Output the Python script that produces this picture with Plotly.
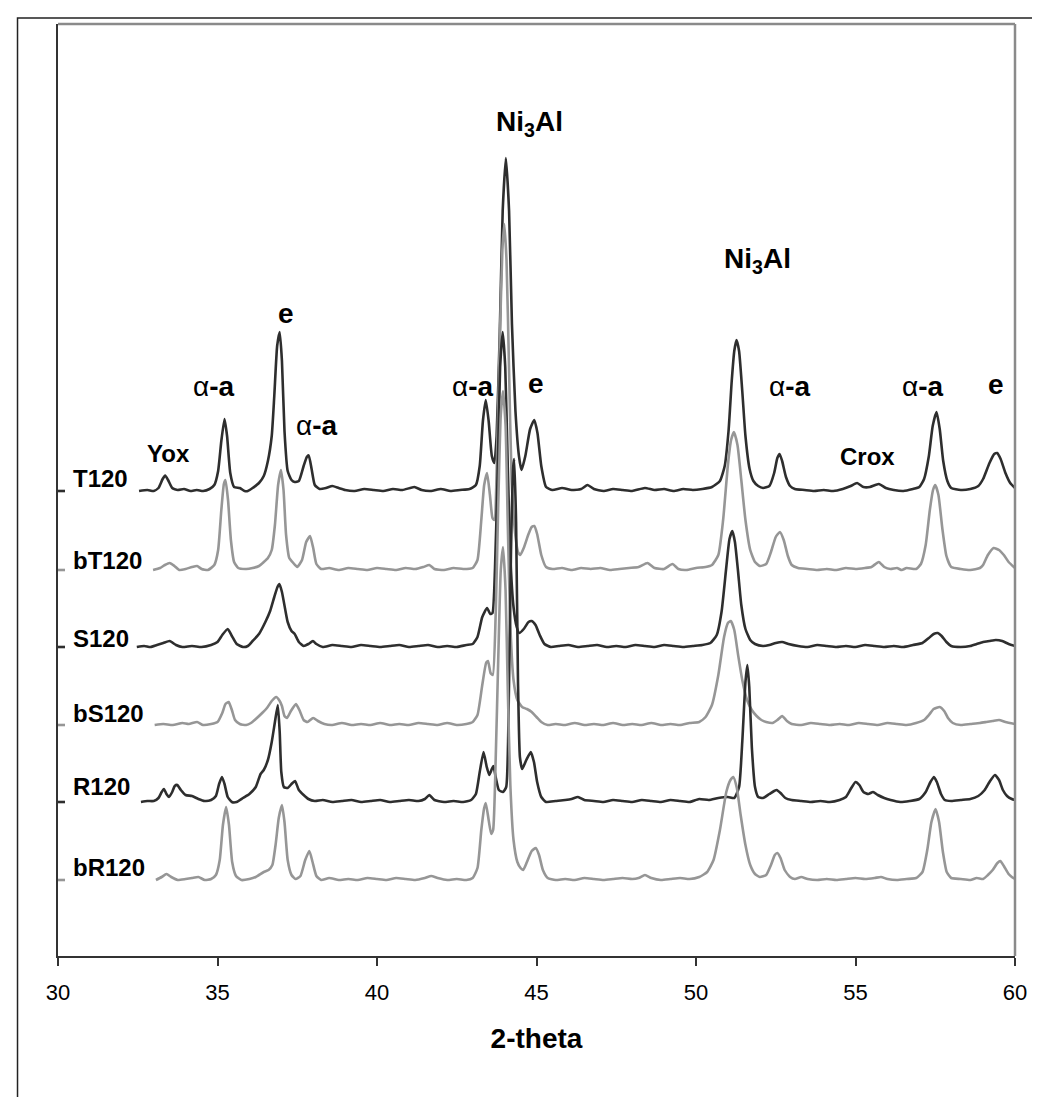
import plotly.graph_objects as go

# ---------------- data (intensity above each pattern's own baseline, arbitrary units) ----------------
series_names = ["T120", "bT120", "S120", "bS120", "R120", "bR120"]
series_offsets = [465, 386, 309, 231, 154, 76]
series_colors = ["#2e2e2e", "#969696", "#2e2e2e", "#969696", "#2e2e2e", "#969696"]

t120_pts = [(30.0, 0), (30.22, 0), (None, None),
    (32.54, 0), (32.8, 1), (33.0, 0), (33.15, 3), (33.28, 12), (33.36, 15.5), (33.45, 11), (33.58, 3), (33.75, 1),
    (33.95, 2), (34.15, 0), (34.35, 1), (34.55, 0), (34.75, 2), (34.9, 6), (35.02, 20), (35.12, 50), (35.22, 72),
    (35.3, 55), (35.4, 18), (35.52, 4), (35.7, 3), (35.85, 0), (35.95, 0), (36.1, 3), (36.3, 8), (36.45, 15),
    (36.58, 30), (36.7, 55), (36.78, 95), (36.87, 145), (36.95, 159), (37.02, 130), (37.1, 60), (37.2, 20),
    (37.32, 11), (37.42, 9), (37.55, 10), (37.7, 25), (37.8, 34), (37.86, 35.6), (37.95, 22), (38.05, 6),
    (38.2, 2), (38.4, 3), (38.6, 5), (38.8, 3), (39.0, 1), (39.3, 0), (39.6, 2), (39.9, 1), (40.2, 0), (40.5, 2),
    (40.8, 1), (41.17, 4), (41.4, 1), (41.7, 0), (42.0, 2), (42.3, 0), (42.6, 1), (42.9, 2), (43.1, 6),
    (43.22, 25), (43.32, 70), (43.41, 91), (43.5, 70), (43.6, 35), (43.68, 28), (43.75, 55), (43.85, 160),
    (43.94, 280), (44.04, 333), (44.14, 280), (44.23, 167), (44.34, 80), (44.45, 35), (44.53, 21), (44.65, 35),
    (44.8, 62), (44.93, 71), (45.03, 58), (45.15, 25), (45.3, 4), (45.5, 1), (45.8, 3), (46.1, 1), (46.4, 2),
    (46.6, 6), (46.8, 2), (47.1, 0), (47.4, 2), (47.7, 1), (48.0, 0), (48.4, 3), (48.7, 1), (49.0, 2), (49.3, 0),
    (49.6, 2), (49.9, 1), (50.2, 2), (50.5, 4), (50.75, 10), (50.9, 25), (51.02, 60), (51.12, 110), (51.2, 140),
    (51.27, 151), (51.35, 140), (51.45, 100), (51.55, 55), (51.68, 22), (51.8, 10), (51.95, 5), (52.1, 3),
    (52.3, 5), (52.45, 18), (52.55, 33), (52.62, 37), (52.7, 30), (52.82, 14), (52.95, 5), (53.1, 2), (53.4, 1),
    (53.7, 0), (54.0, 1), (54.3, 0), (54.6, 2), (54.85, 5), (55.05, 8), (55.25, 4), (55.45, 4), (55.73, 7),
    (55.95, 3), (56.2, 1), (56.5, 0), (56.8, 2), (57.0, 4), (57.15, 12), (57.3, 35), (57.42, 65), (57.54, 79),
    (57.64, 62), (57.75, 30), (57.88, 10), (58.0, 3), (58.3, 1), (58.6, 2), (58.85, 5), (59.0, 12), (59.2, 28),
    (59.35, 37), (59.44, 38), (59.55, 32), (59.7, 18), (59.85, 8), (60.0, 3)]

bt120_pts = [(30.0, 0), (30.22, 0), (None, None),
    (32.98, 0), (33.2, 2), (33.35, 5), (33.5, 7), (33.65, 4), (33.8, 0), (34.0, 1), (34.2, 3), (34.36, 4),
    (34.5, 1), (34.7, 0), (34.9, 5), (35.02, 20), (35.12, 60), (35.2, 86), (35.25, 90), (35.33, 70), (35.42, 30),
    (35.52, 8), (35.65, 2), (35.9, 1), (36.1, 2), (36.3, 4), (36.45, 8), (36.58, 12), (36.7, 20), (36.8, 45),
    (36.9, 85), (36.99, 100), (37.07, 80), (37.15, 35), (37.25, 12), (37.35, 8), (37.5, 3), (37.65, 10),
    (37.78, 28), (37.9, 34), (38.0, 22), (38.1, 6), (38.25, 1), (38.5, 2), (38.8, 0), (39.1, 2), (39.4, 1),
    (39.7, 0), (40.0, 2), (40.3, 1), (40.6, 0), (40.9, 2), (41.2, 1), (41.45, 3), (41.64, 5), (41.8, 1), (42.1, 0),
    (42.4, 2), (42.7, 1), (43.0, 2), (43.15, 10), (43.27, 50), (43.36, 85), (43.45, 97), (43.54, 75),
    (43.62, 52), (43.68, 50), (43.76, 110), (43.85, 230), (43.93, 320), (43.99, 346), (44.06, 310),
    (44.14, 200), (44.22, 90), (44.32, 40), (44.42, 18), (44.49, 15), (44.6, 22), (44.75, 36), (44.85, 43),
    (44.93, 44), (45.02, 36), (45.15, 15), (45.3, 3), (45.5, 1), (45.8, 2), (46.1, 0), (46.4, 2), (46.7, 1),
    (47.0, 2), (47.3, 0), (47.6, 1), (47.9, 2), (48.2, 3), (48.48, 7), (48.7, 2), (49.0, 1), (49.26, 6),
    (49.45, 1), (49.7, 0), (50.0, 2), (50.3, 3), (50.5, 5), (50.7, 15), (50.85, 50), (51.0, 105), (51.1, 130),
    (51.19, 138), (51.3, 125), (51.42, 90), (51.55, 50), (51.7, 20), (51.85, 8), (52.0, 4), (52.2, 6),
    (52.35, 18), (52.5, 33), (52.63, 38), (52.75, 30), (52.88, 14), (53.0, 5), (53.2, 2), (53.5, 1), (53.8, 0),
    (54.1, 1), (54.4, 0), (54.7, 2), (55.0, 1), (55.3, 2), (55.5, 3), (55.73, 8), (55.9, 3), (56.1, 1), (56.3, 2),
    (56.45, 0), (56.6, 2), (56.9, 1), (57.05, 6), (57.2, 25), (57.33, 60), (57.43, 80), (57.5, 85), (57.6, 75),
    (57.72, 42), (57.85, 14), (58.0, 3), (58.3, 1), (58.6, 0), (58.9, 2), (59.0, 5), (59.15, 15), (59.33, 22),
    (59.5, 20), (59.65, 15), (59.8, 8), (60.0, 2)]

s120_pts = [(30.0, 0), (30.22, 0), (None, None),
    (32.47, 0), (32.7, 1), (32.9, 0), (33.1, 2), (33.3, 4), (33.5, 6), (33.7, 2), (33.9, 0), (34.2, 1), (34.5, 0),
    (34.8, 2), (35.0, 5), (35.15, 12), (35.32, 18), (35.45, 11), (35.6, 3), (35.8, 0), (35.95, 1), (36.1, 6),
    (36.3, 13), (36.5, 25), (36.65, 36), (36.78, 50), (36.88, 60), (36.94, 63), (37.02, 55), (37.12, 38),
    (37.2, 25), (37.32, 16), (37.42, 13), (37.55, 5), (37.7, 1), (37.85, 3), (37.99, 6), (38.1, 3), (38.3, 0),
    (38.6, 2), (38.9, 1), (39.2, 0), (39.5, 2), (39.8, 1), (40.1, 0), (40.4, 1), (40.7, 2), (41.0, 0), (41.3, 1),
    (41.6, 2), (41.9, 0), (42.2, 1), (42.5, 0), (42.8, 2), (43.0, 3), (43.15, 10), (43.3, 30), (43.45, 39),
    (43.55, 33), (43.62, 34), (43.7, 80), (43.78, 170), (43.86, 280), (43.94, 315), (44.02, 280), (44.1, 180),
    (44.18, 90), (44.28, 40), (44.38, 20), (44.46, 14), (44.6, 18), (44.75, 25), (44.85, 26), (44.97, 22),
    (45.1, 12), (45.25, 3), (45.45, 0), (45.7, 1), (46.0, 2), (46.3, 0), (46.6, 1), (46.9, 2), (47.2, 0),
    (47.5, 1), (47.8, 0), (48.1, 2), (48.4, 1), (48.7, 0), (49.0, 2), (49.3, 1), (49.6, 0), (49.9, 1), (50.2, 2),
    (50.45, 4), (50.65, 12), (50.8, 35), (50.95, 80), (51.05, 108), (51.14, 116), (51.22, 105), (51.32, 75),
    (51.42, 42), (51.55, 18), (51.7, 7), (51.85, 3), (52.1, 1), (52.3, 2), (52.5, 4), (52.7, 5), (52.9, 3),
    (53.2, 1), (53.5, 0), (53.8, 2), (54.1, 1), (54.4, 0), (54.7, 1), (55.0, 0), (55.3, 2), (55.6, 1), (55.9, 0),
    (56.2, 1), (56.5, 0), (56.8, 2), (57.1, 4), (57.3, 9), (57.45, 13), (57.58, 14), (57.7, 11), (57.85, 5),
    (58.0, 1), (58.3, 0), (58.6, 1), (58.8, 3), (59.0, 5), (59.2, 6), (59.4, 7), (59.6, 6), (59.8, 3), (60.0, 1)]

bs120_pts = [(30.0, 0), (30.22, 0), (None, None),
    (33.03, 0), (33.3, 1), (33.6, 0), (33.9, 2), (34.1, 1), (34.36, 3), (34.55, 0), (34.8, 1), (35.0, 3),
    (35.15, 12), (35.25, 21), (35.35, 23), (35.45, 15), (35.55, 5), (35.7, 1), (35.9, 0), (36.05, 2), (36.2, 6),
    (36.4, 12), (36.55, 17), (36.7, 24), (36.84, 28), (36.95, 24), (37.02, 19), (37.1, 9), (37.18, 7),
    (37.3, 14), (37.46, 21), (37.58, 14), (37.7, 5), (37.82, 3), (38.0, 7), (38.15, 4), (38.35, 1), (38.6, 0),
    (38.9, 2), (39.2, 0), (39.5, 1), (39.8, 0), (40.1, 2), (40.4, 0), (40.7, 1), (41.0, 0), (41.3, 2), (41.6, 1),
    (41.9, 0), (42.2, 2), (42.5, 0), (42.8, 1), (43.0, 3), (43.15, 10), (43.3, 40), (43.42, 62), (43.48, 64),
    (43.56, 52), (43.63, 50), (43.72, 110), (43.8, 220), (43.88, 310), (43.95, 334), (44.03, 300), (44.1, 200),
    (44.18, 100), (44.28, 45), (44.4, 25), (44.55, 18), (44.7, 16), (44.85, 13), (45.0, 8), (45.15, 3),
    (45.35, 0), (45.6, 1), (45.9, 0), (46.2, 2), (46.5, 0), (46.8, 1), (47.1, 0), (47.4, 2), (47.7, 0), (48.0, 1),
    (48.3, 0), (48.6, 2), (48.9, 0), (49.2, 1), (49.5, 0), (49.8, 2), (50.1, 3), (50.3, 8), (50.5, 20),
    (50.7, 50), (50.88, 88), (51.0, 102), (51.09, 104), (51.2, 95), (51.32, 70), (51.45, 45), (51.6, 25),
    (51.75, 15), (51.9, 9), (52.05, 5), (52.2, 3), (52.4, 2), (52.55, 5), (52.7, 9), (52.85, 4), (53.0, 1),
    (53.3, 0), (53.6, 2), (53.9, 1), (54.2, 0), (54.5, 1), (54.8, 0), (55.1, 2), (55.4, 1), (55.7, 0), (56.0, 2),
    (56.3, 1), (56.6, 0), (56.9, 2), (57.15, 5), (57.3, 10), (57.45, 16), (57.64, 18), (57.78, 14), (57.9, 7),
    (58.05, 2), (58.3, 0), (58.6, 1), (58.9, 2), (59.1, 3), (59.3, 4), (59.5, 5), (59.7, 3), (60.0, 1)]

r120_pts = [(30.0, 0), (30.22, 0), (None, None),
    (32.6, 0), (32.8, 1), (33.0, 1), (33.15, 4), (33.25, 10), (33.32, 13), (33.4, 8), (33.48, 5), (33.58, 10),
    (33.66, 16), (33.74, 17), (33.85, 12), (34.0, 7), (34.2, 6), (34.4, 3), (34.6, 1), (34.8, 2), (34.95, 6),
    (35.05, 18), (35.14, 25), (35.22, 18), (35.32, 5), (35.45, 0), (35.6, 0), (35.8, 4), (36.0, 8), (36.2, 15),
    (36.35, 28), (36.45, 32), (36.58, 42), (36.7, 60), (36.8, 80), (36.89, 97), (36.95, 70), (37.0, 30),
    (37.08, 15), (37.2, 14), (37.32, 18), (37.43, 21), (37.55, 12), (37.7, 7), (37.85, 3), (38.05, 1),
    (38.3, 2), (38.6, 0), (38.9, 1), (39.2, 2), (39.5, 0), (39.8, 1), (40.1, 2), (40.4, 0), (40.7, 1), (41.0, 2),
    (41.3, 1), (41.5, 3), (41.64, 7), (41.8, 2), (42.1, 0), (42.4, 1), (42.7, 0), (42.95, 2), (43.1, 8),
    (43.22, 30), (43.34, 50), (43.44, 35), (43.52, 27), (43.6, 33), (43.65, 36), (43.72, 25), (43.82, 12),
    (43.95, 10), (44.05, 15), (44.13, 100), (44.2, 250), (44.27, 335), (44.3, 343), (44.36, 280),
    (44.42, 120), (44.48, 45), (44.55, 33), (44.68, 42), (44.82, 50), (44.92, 40), (45.02, 20), (45.15, 5),
    (45.3, 0), (45.6, 1), (45.9, 2), (46.1, 3), (46.3, 5), (46.5, 2), (46.8, 1), (47.1, 0), (47.4, 2), (47.7, 1),
    (48.0, 0), (48.3, 2), (48.6, 1), (48.9, 0), (49.2, 2), (49.5, 1), (49.8, 0), (50.1, 3), (50.4, 2), (50.7, 4),
    (51.0, 5), (51.2, 4), (51.35, 15), (51.45, 60), (51.55, 120), (51.61, 137), (51.67, 115), (51.75, 55),
    (51.85, 15), (51.95, 5), (52.1, 4), (52.3, 8), (52.45, 11), (52.53, 12), (52.65, 9), (52.8, 4), (53.0, 2),
    (53.3, 1), (53.6, 0), (53.9, 1), (54.2, 0), (54.5, 2), (54.7, 5), (54.85, 13), (55.0, 20), (55.12, 17),
    (55.25, 10), (55.4, 8), (55.55, 10), (55.7, 7), (55.9, 4), (56.1, 2), (56.4, 0), (56.7, 1), (57.0, 3),
    (57.2, 10), (57.35, 20), (57.46, 25), (57.55, 20), (57.68, 8), (57.8, 2), (58.0, 1), (58.3, 2), (58.6, 3),
    (58.85, 6), (59.05, 12), (59.2, 20), (59.37, 27), (59.5, 22), (59.62, 12), (59.75, 6), (59.9, 3), (60.0, 2)]

br120_pts = [(30.0, 0), (30.22, 0), (None, None),
    (33.07, 0), (33.25, 3), (33.4, 6), (33.55, 3), (33.75, 0), (34.0, 1), (34.2, 2), (34.4, 3), (34.6, 0),
    (34.8, 1), (34.95, 5), (35.07, 20), (35.17, 55), (35.27, 73), (35.36, 55), (35.46, 18), (35.58, 4),
    (35.75, 0), (36.0, 1), (36.2, 3), (36.45, 8), (36.6, 10), (36.72, 15), (36.82, 35), (36.92, 62), (37.02, 75),
    (37.1, 58), (37.2, 20), (37.32, 5), (37.45, 1), (37.6, 4), (37.75, 20), (37.88, 29), (37.98, 18), (38.1, 4),
    (38.25, 0), (38.5, 2), (38.8, 0), (39.1, 1), (39.4, 0), (39.7, 2), (40.0, 1), (40.3, 0), (40.6, 2), (40.9, 1),
    (41.2, 0), (41.5, 2), (41.7, 4), (41.9, 2), (42.2, 0), (42.5, 1), (42.8, 0), (43.0, 2), (43.15, 12),
    (43.27, 50), (43.36, 72), (43.41, 77), (43.5, 60), (43.58, 46), (43.64, 50), (43.72, 120), (43.8, 220),
    (43.88, 310), (43.95, 333), (44.03, 290), (44.1, 190), (44.18, 95), (44.28, 40), (44.4, 18), (44.5, 12),
    (44.58, 10), (44.7, 18), (44.85, 29), (44.98, 32), (45.08, 25), (45.2, 10), (45.35, 2), (45.6, 0),
    (45.9, 1), (46.2, 0), (46.5, 2), (46.8, 1), (47.1, 0), (47.4, 1), (47.7, 2), (48.0, 1), (48.2, 2), (48.4, 5),
    (48.6, 2), (48.9, 0), (49.2, 1), (49.5, 2), (49.8, 1), (50.1, 3), (50.35, 8), (50.55, 20), (50.75, 50),
    (50.95, 88), (51.08, 100), (51.17, 103), (51.28, 92), (51.4, 65), (51.55, 35), (51.7, 15), (51.85, 6),
    (52.0, 3), (52.2, 5), (52.35, 15), (52.47, 25), (52.55, 27), (52.65, 22), (52.78, 10), (52.95, 3),
    (53.1, 1), (53.3, 3), (53.5, 1), (53.8, 0), (54.1, 1), (54.4, 0), (54.7, 1), (55.0, 2), (55.3, 1), (55.6, 2),
    (55.8, 3), (56.0, 1), (56.3, 0), (56.6, 1), (56.9, 2), (57.1, 8), (57.25, 30), (57.38, 58), (57.51, 71),
    (57.62, 58), (57.74, 28), (57.86, 8), (58.0, 2), (58.3, 1), (58.6, 0), (58.8, 2), (59.0, 1), (59.15, 5),
    (59.3, 10), (59.45, 17), (59.54, 19), (59.65, 14), (59.8, 6), (59.9, 3), (60.0, 1)]

series_points = [t120_pts, bt120_pts, s120_pts, bs120_pts, r120_pts, br120_pts]

# series name labels (x, y in data units)
series_label_x = 30.41
series_label_y = [478, 396, 318, 243, 170, 89]

# phase labels
peak_labels = ["<b>Yox</b>", "α<b>-a</b>", "<b>e</b>", "α<b>-a</b>", "α<b>-a</b>", "<b>e</b>",
               "<b>Ni<sub>3</sub>Al</b>", "<b>Ni<sub>3</sub>Al</b>", "α<b>-a</b>", "<b>Crox</b>",
               "α<b>-a</b>", "<b>e</b>"]
peak_label_x = [33.45, 34.89, 37.15, 38.11, 43.0, 44.97, 44.77, 51.94, 52.96, 55.39, 57.11, 59.41]
peak_label_y = [503, 570, 643, 531, 570, 573, 833, 696, 570, 500, 570, 572]
peak_label_size = [24, 28, 28, 28, 28, 28, 28, 28, 28, 24, 28, 28]

x_ticks = [30, 35, 40, 45, 50, 55, 60]

FONT = "Arial, Liberation Sans, sans-serif"

fig = go.Figure()
for name, pts, off, col in zip(series_names, series_points, series_offsets, series_colors):
    xs = [p[0] for p in pts]
    ys = [None if p[1] is None else p[1] + off for p in pts]
    fig.add_trace(go.Scatter(x=xs, y=ys, mode="lines", name=name,
                             line=dict(color=col, width=2.6, shape="spline", smoothing=0.5),
                             connectgaps=False, showlegend=False, hoverinfo="skip"))

annotations = []
for name, y in zip(series_names, series_label_y):
    annotations.append(dict(x=series_label_x, y=y, xref="x", yref="y", text="<b>%s</b>" % name,
                            showarrow=False, xanchor="left", yanchor="middle",
                            font=dict(family=FONT, size=24, color="black")))
for t, x, y, s in zip(peak_labels, peak_label_x, peak_label_y, peak_label_size):
    annotations.append(dict(x=x, y=y, xref="x", yref="y", text=t,
                            showarrow=False, xanchor="center", yanchor="middle",
                            font=dict(family=FONT, size=s, color="black")))

shapes = [
    # plot-area frame (top and right, grey)
    dict(type="line", xref="paper", yref="paper", x0=0, x1=1, y0=1, y1=1,
         line=dict(color="#8a8a8a", width=2.5)),
    dict(type="line", xref="paper", yref="paper", x0=1, x1=1, y0=0, y1=1,
         line=dict(color="#8a8a8a", width=2.5)),
    # outer chart-area border (extends beyond the visible page at right/bottom)
    dict(type="rect", xref="paper", yref="paper", x0=-0.0423, x1=1.06, y0=-0.2, y1=1.0064,
         line=dict(color="#222222", width=1.5), fillcolor="rgba(0,0,0,0)", layer="below"),
]

fig.update_layout(
    width=1040, height=1097,
    margin=dict(l=50, r=33, t=16, b=149, pad=0),
    paper_bgcolor="white", plot_bgcolor="white",
    annotations=annotations, shapes=shapes,
    font=dict(family=FONT, color="black"),
    xaxis=dict(range=[30, 60], tickvals=x_ticks, ticktext=[str(v) for v in x_ticks],
               ticks="outside", ticklen=8, tickwidth=1.5, tickcolor="#333333",
               showline=True, linecolor="#333333", linewidth=2.2, showgrid=False, zeroline=False,
               tickfont=dict(family=FONT, size=22, color="black"), ticklabelstandoff=7,
               title=dict(text="<b>2-theta</b>", font=dict(family=FONT, size=28, color="black"), standoff=25)),
    yaxis=dict(range=[0, 932], showline=True, linecolor="#333333", linewidth=2.2,
               showticklabels=False, ticks="", showgrid=False, zeroline=False),
)

fig.write_html("out.html")
